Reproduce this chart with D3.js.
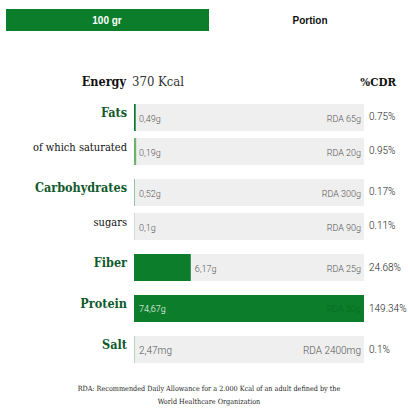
<!DOCTYPE html>
<html><head><meta charset="utf-8">
<script src="https://cdn.jsdelivr.net/npm/d3@7"></script>
<style>body{margin:0;background:#fff}svg{display:block}</style>
</head><body>
<script>
const nutrients = ["Fats","of which saturated","Carbohydrates","sugars","Fiber","Protein","Salt"];
const isSub = [false,true,false,true,false,false,false];
const amountLabels = ["0,49g","0,19g","0,52g","0,1g","6,17g","74,67g","2,47mg"];
const rdaLabels = ["RDA 65g","RDA 20g","RDA 300g","RDA 90g","RDA 25g","RDA 50g","RDA 2400mg"];
const pctValues = [0.75,0.95,0.17,0.11,24.68,149.34,0.1];
const pctLabels = ["0.75%","0.95%","0.17%","0.11%","24.68%","149.34%","0.1%"];
const energyLabel = "370 Kcal";
const tabs = ["100 gr","Portion"];
const footnote = ["RDA: Recommended Daily Allowance for a 2.000 Kcal of an adult defined by the","World Healthcare Organization"];

const W=408,H=408;
const GREEN="#0b7d2b", LABELGREEN="#0f5a2c", SUBGREEN="#6cb46c";
const slab="'DejaVu Serif', serif";
const light="Roboto, sans-serif";
const svg=d3.select("body").append("svg").attr("width",W).attr("height",H);

// tabs
svg.append("rect").attr("x",6).attr("y",9).attr("width",203).attr("height",22).attr("fill",GREEN);
svg.append("text").attr("x",107).attr("y",24).attr("text-anchor","middle").attr("fill","#fff")
  .attr("font-family","Arial, 'Liberation Sans', sans-serif").attr("font-weight","bold").attr("font-size",10).text(tabs[0]);
svg.append("text").attr("x",310).attr("y",24).attr("text-anchor","middle").attr("fill","#111")
  .attr("font-family","Arial, 'Liberation Sans', sans-serif").attr("font-weight","bold").attr("font-size",10).text(tabs[1]);

// energy row
svg.append("text").attr("x",126).attr("y",86).attr("text-anchor","end").attr("fill","#111")
  .attr("font-family",slab).attr("font-weight","bold").attr("font-size",12.5).attr("font-stretch","condensed").text("Energy");
svg.append("text").attr("x",132).attr("y",86).attr("fill","#333")
  .attr("font-family",slab).attr("font-weight","300").attr("font-size",13).attr("font-stretch","condensed").text(energyLabel);
svg.append("text").attr("x",396).attr("y",86).attr("text-anchor","end").attr("fill","#111")
  .attr("font-family",slab).attr("font-weight","bold").attr("font-size",11.5).attr("font-stretch","condensed").text("%CDR");

// scales
const x=d3.scaleLinear().domain([0,100]).range([134,364]).clamp(true);
const rowH=27;
const tops=[]; let yy=104;
nutrients.forEach((n,i)=>{ tops.push(yy); if(i<nutrients.length-1){ yy += rowH + (isSub[i+1]?7:14); } });

const rows=svg.selectAll("g.row").data(nutrients).join("g").attr("class","row")
  .attr("transform",(d,i)=>`translate(0,${tops[i]})`);

rows.append("rect").attr("x",x(0)).attr("y",0).attr("width",x(100)-x(0)).attr("height",rowH).attr("fill","#efefef");
rows.append("rect").attr("x",x(0)).attr("y",0).attr("width",(d,i)=>x(pctValues[i])-x(0)).attr("height",rowH)
  .attr("fill",(d,i)=>isSub[i]?SUBGREEN:GREEN);

rows.append("text").attr("x",127).attr("y",13).attr("text-anchor","end")
  .attr("font-family",slab).attr("font-stretch","condensed")
  .attr("font-weight",(d,i)=>isSub[i]?"normal":"bold")
  .attr("font-size",(d,i)=>isSub[i]?11:12.5)
  .attr("fill",(d,i)=>isSub[i]?"#111":LABELGREEN).text(d=>d);

rows.append("text").attr("y",(d,i)=>i===5?17:18)
  .attr("font-family",light).attr("font-weight","300").attr("font-size",(d,i)=>i===6?10:9)
  .attr("fill",(d,i)=>pctValues[i]>=50?"#fff":"#555")
  .attr("x",(d,i)=>pctValues[i]>=50?x(0)+5:(pctValues[i]>5?x(pctValues[i])+4:x(0)+5))
  .text((d,i)=>amountLabels[i]);

rows.append("text").attr("x",x(100)-3).attr("y",(d,i)=>i===5?17:18).attr("text-anchor","end")
  .attr("font-family",light).attr("font-weight","300").attr("font-size",(d,i)=>i===6?10:9)
  .attr("fill",(d,i)=>pctValues[i]>=100?"#0a6a22":"#555").text((d,i)=>rdaLabels[i]);

rows.append("text").attr("x",369).attr("y",(d,i)=>i>=4?17:16)
  .attr("font-family",light).attr("font-weight","300").attr("font-size",10).attr("fill","#222")
  .text((d,i)=>pctLabels[i]);

// footnote
svg.selectAll("text.foot").data(footnote).join("text").attr("class","foot")
  .attr("x",209).attr("y",(d,i)=>391+i*13).attr("text-anchor","middle")
  .attr("font-family",slab).attr("font-stretch","condensed").attr("font-size",7.2).attr("fill","#222").text(d=>d);
</script>
</body></html>
